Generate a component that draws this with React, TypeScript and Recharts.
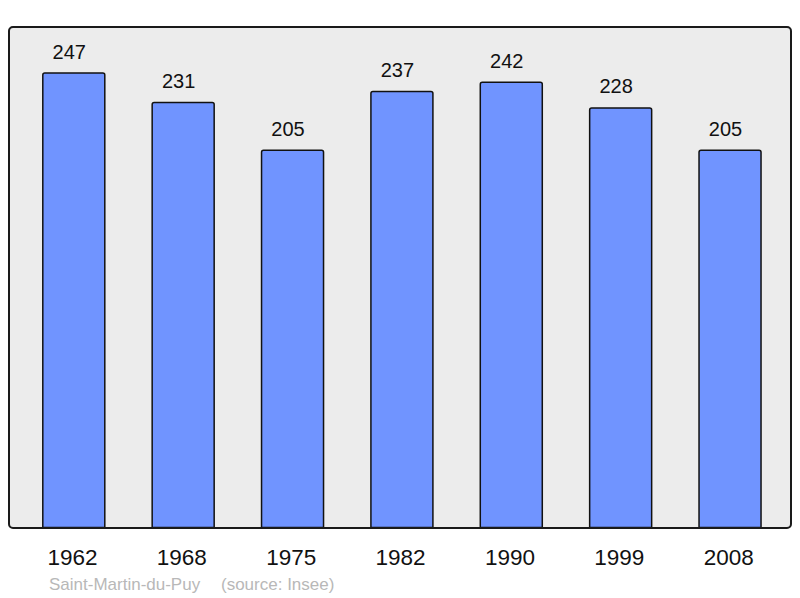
import React from "react";
import { BarChart, Bar, XAxis, YAxis, LabelList } from "recharts";

const years = ["1962", "1968", "1975", "1982", "1990", "1999", "2008"];
const population = [247, 231, 205, 237, 242, 228, 205];
const placeName = "Saint-Martin-du-Puy";
const sourceText = "(source: Insee)";

const data = years.map((y, i) => ({ year: y, pop: population[i] }));

const FONT = "'Liberation Sans', Arial, sans-serif";

const YearTick = (props: any) => {
  const { x, y, payload } = props;
  return (
    <text x={x - 1} y={y + 37} textAnchor="middle" fontFamily={FONT} fontSize={22.5} fill="#111">
      {payload.value}
    </text>
  );
};

const ValueLabel = (props: any) => {
  const { x, y, width, value } = props;
  return (
    <text x={x + width / 2 - 4.5} y={y - 14.5} textAnchor="middle" fontFamily={FONT} fontSize={20} fill="#111">
      {value}
    </text>
  );
};

export default function App() {
  return (
    <div style={{ position: "absolute", left: 0, top: 0, width: 800, height: 598, background: "#fff" }}>
      <div
        style={{
          position: "absolute",
          left: 8,
          top: 26,
          width: 784,
          height: 503,
          boxSizing: "border-box",
          background: "#ececec",
          borderRadius: 5,
        }}
      />
      <div style={{ position: "absolute", left: 0, top: 0 }}>
        <BarChart
          width={800}
          height={598}
          data={data}
          margin={{ top: 27, right: 8, left: 8, bottom: 30.5 }}
        >
          <XAxis
            dataKey="year"
            height={40}
            axisLine={false}
            tickLine={false}
            tickSize={0}
            tickMargin={0}
            padding={{ left: 10.8, right: 7.6 }}
            tick={<YearTick />}
            interval={0}
          />
          <YAxis hide domain={[0, 272]} />
          <Bar
            dataKey="pop"
            fill="#7094ff"
            stroke="#111"
            strokeWidth={1.5}
            barSize={62}
            radius={[2, 2, 0, 0]}
            isAnimationActive={false}
          >
            <LabelList dataKey="pop" content={<ValueLabel />} />
          </Bar>
        </BarChart>
      </div>
      <div
        style={{
          position: "absolute",
          left: 8,
          top: 26,
          width: 784,
          height: 503,
          boxSizing: "border-box",
          border: "2px solid #1a1a1a",
          borderRadius: 5,
          pointerEvents: "none",
        }}
      />
      <svg style={{ position: "absolute", left: 0, top: 0 }} width={800} height={598}>
        <text x={49} y={590} fontFamily={FONT} fontSize={17} fill="#b8b8b8">
          {placeName}
        </text>
        <text x={221} y={590} fontFamily={FONT} fontSize={17} fill="#b8b8b8">
          {sourceText}
        </text>
      </svg>
    </div>
  );
}
